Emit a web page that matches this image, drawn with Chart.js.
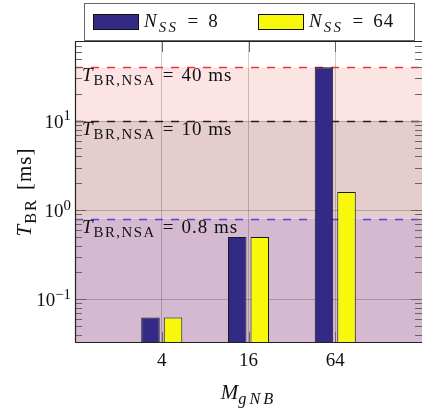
<!DOCTYPE html>
<html>
<head>
<meta charset="utf-8">
<script src="https://cdn.jsdelivr.net/npm/chart.js@4.4.0/dist/chart.umd.min.js"></script>
<style>
  html, body { margin: 0; padding: 0; background: #fff; }
</style>
</head>
<body>
<canvas id="chart" width="422" height="411"></canvas>
<script>
// data
const mGNB = [4, 16, 64];
const nss8 = [0.0625, 0.5, 40];
const nss64 = [0.0625, 0.5, 1.6];
const seriesNames = ['8', '64'];
const seriesColors = ['#332a85', '#f8f80c'];
const nsaLimits = [40, 10, 0.8];
const nsaLabels = ['40', '10', '0.8'];
const nsaColors = ['#ff3030', '#2a1c1c', '#5540e0'];
const bandColors = ['#fde4e4', '#e6cdcd', '#d4b9d0'];
const yDecades = [0.1, 1, 10];
const yExponents = ['\u22121', '0', '1'];

const FONT = 'Liberation Serif';

// text made of runs: r = roman, i = italic, sub / subi / sup = small and shifted, gap = blank px
function drawRich(ctx, x, y, parts, size, align, ls, subLs) {
  ls = ls || 0;
  subLs = subLs || 0;
  const runs = parts.map(([t, k]) => {
    if (k == 'gap') return { gap: true, w: t };
    const small = k == 'sub' || k == 'subi' || k == 'sup';
    const fs = small ? size * 0.78 : size;
    const it = k == 'i' || k == 'subi';
    const f = (it ? 'italic ' : '') + fs + 'px "' + FONT + '"';
    const sp = (k == 'sub' || k == 'subi') ? subLs : (k == 'sup' ? 0 : ls);
    ctx.font = f;
    ctx.letterSpacing = sp + 'px';
    let dy = 0;
    if (k == 'sub' || k == 'subi') dy = size * 0.25;
    if (k == 'sup') dy = -size * 0.4;
    return { t, f, dy, sp, w: ctx.measureText(t).width };
  });
  const total = runs.reduce((s, r) => s + r.w, 0);
  let cx = x;
  if (align == 'right') cx = x - total;
  if (align == 'center') cx = x - total / 2;
  ctx.textAlign = 'left';
  ctx.textBaseline = 'alphabetic';
  runs.forEach(r => {
    if (!r.gap) {
      ctx.font = r.f;
      ctx.letterSpacing = r.sp + 'px';
      ctx.fillText(r.t, cx, y + r.dy);
    }
    cx += r.w;
  });
  ctx.letterSpacing = '0px';
}

const decor = {
  id: 'decor',
  beforeDraw(chart) {
    const { ctx, chartArea: a, scales: { y } } = chart;
    ctx.save();
    nsaLimits.forEach((v, i) => {
      const top = y.getPixelForValue(v);
      const bot = i + 1 < nsaLimits.length ? y.getPixelForValue(nsaLimits[i + 1]) : a.bottom;
      ctx.fillStyle = bandColors[i];
      ctx.fillRect(a.left, top, a.right - a.left, bot - top);
    });
    ctx.restore();
  },
  beforeDatasetsDraw(chart) {
    const { ctx, chartArea: a, scales: { y } } = chart;
    ctx.save();
    nsaLimits.forEach((v, i) => {
      const py = Math.round(y.getPixelForValue(v)) + 0.5;
      ctx.setLineDash([8, 8]);
      ctx.strokeStyle = nsaColors[i];
      ctx.lineWidth = 1.5;
      ctx.beginPath();
      ctx.moveTo(a.left, py);
      ctx.lineTo(a.right, py);
      ctx.stroke();
      ctx.setLineDash([]);
      ctx.fillStyle = '#111';
      drawRich(ctx, a.left + 7, py + 13,
        [['T', 'i'], ['BR,NSA', 'sub'], [7, 'gap'], ['=', 'r'], [7, 'gap'], [nsaLabels[i] + ' ms', 'r']],
        19, 'left', 1, 1.5);
    });
    ctx.restore();
  },
  afterDatasetsDraw(chart) {
    const { ctx, chartArea: a, scales: { x, y } } = chart;
    ctx.save();
    // minor and major ticks, inside, on left and right
    ctx.strokeStyle = '#666';
    ctx.lineWidth = 1;
    for (let k = -2; k <= 1; k++) {
      for (let m = 1; m <= 9; m++) {
        const v = m * Math.pow(10, k);
        if (v < y.min || v > y.max) continue;
        const py = Math.round(y.getPixelForValue(v)) + 0.5;
        const len = m == 1 ? 11 : 7;
        ctx.beginPath();
        ctx.moveTo(a.left, py); ctx.lineTo(a.left + len, py);
        ctx.moveTo(a.right, py); ctx.lineTo(a.right - len, py);
        ctx.stroke();
      }
    }
    mGNB.forEach(v => {
      const px = Math.round(x.getPixelForValue(v)) + 0.5;
      ctx.beginPath();
      ctx.moveTo(px, a.bottom); ctx.lineTo(px, a.bottom - 11);
      ctx.moveTo(px, a.top); ctx.lineTo(px, a.top + 11);
      ctx.stroke();
    });
    // frame
    ctx.strokeStyle = '#222';
    ctx.lineWidth = 1.2;
    ctx.beginPath();
    ctx.moveTo(a.left + 0.5, a.bottom - 0.5);
    ctx.lineTo(a.left + 0.5, a.top + 0.5);
    ctx.lineTo(a.right, a.top + 0.5);
    ctx.moveTo(a.left, a.bottom - 0.5);
    ctx.lineTo(a.right, a.bottom - 0.5);
    ctx.stroke();

    ctx.fillStyle = '#111';
    // y tick labels
    yDecades.forEach((v, i) => {
      const py = y.getPixelForValue(v);
      drawRich(ctx, a.left - 4, py + 7, [['10', 'r'], [yExponents[i], 'sup']], 19, 'right');
    });
    // axis titles
    drawRich(ctx, (a.left + a.right) / 2, 399, [['M', 'i'], ['gNB', 'subi']], 21, 'center', 0, 3);
    ctx.save();
    ctx.translate(23, (a.top + a.bottom) / 2);
    ctx.rotate(-Math.PI / 2);
    drawRich(ctx, 0, 8, [['T', 'i'], ['BR', 'sub'], [8, 'gap'], ['[ms]', 'r']], 21, 'center', 1, 2);
    ctx.restore();

    // legend
    ctx.strokeStyle = '#666';
    ctx.lineWidth = 1;
    ctx.fillStyle = '#fff';
    ctx.fillRect(84.5, 3.5, 330, 37);
    ctx.strokeRect(84.5, 3.5, 330, 37);
    const sx = [93, 258];
    seriesNames.forEach((n, i) => {
      ctx.fillStyle = seriesColors[i];
      ctx.fillRect(sx[i] + 0.5, 14.5, 45, 15);
      ctx.strokeStyle = '#111';
      ctx.strokeRect(sx[i] + 0.5, 14.5, 45, 15);
      ctx.fillStyle = '#111';
      drawRich(ctx, sx[i] + 51, 27,
        [['N', 'i'], [1, 'gap'], ['SS', 'subi'], [9, 'gap'], ['=', 'r'], [9, 'gap'], [n, 'r']],
        19, 'left', 1, 2.5);
    });
    ctx.restore();
  }
};

const gridColor = 'rgba(0,0,0,0.2)';

new Chart(document.getElementById('chart'), {
  type: 'bar',
  data: {
    datasets: [
      {
        label: 'N_SS = ' + seriesNames[0],
        data: mGNB.map((m, i) => ({ x: m, y: nss8[i] })),
        backgroundColor: seriesColors[0],
        borderColor: '#1a1a1a',
        borderWidth: 1,
        categoryPercentage: 0.52,
        barPercentage: 0.82
      },
      {
        label: 'N_SS = ' + seriesNames[1],
        data: mGNB.map((m, i) => ({ x: m, y: nss64[i] })),
        backgroundColor: seriesColors[1],
        borderColor: '#1a1a1a',
        borderWidth: 1,
        categoryPercentage: 0.52,
        barPercentage: 0.82
      }
    ]
  },
  options: {
    responsive: false,
    animation: false,
    layout: { padding: { top: 41, left: 0, right: 0, bottom: 0 } },
    plugins: { legend: { display: false }, tooltip: { enabled: false } },
    scales: {
      x: {
        type: 'logarithmic',
        min: 1,
        max: 256,
        bounds: 'data',
        offset: false,
        grid: { offset: false, color: gridColor, drawTicks: false },
        border: { display: false },
        afterBuildTicks: s => { s.ticks = mGNB.map(v => ({ value: v })); },
        afterFit: s => { s.height = 68; },
        ticks: {
          autoSkip: false,
          maxRotation: 0,
          padding: 7,
          color: '#111',
          font: { family: FONT, size: 19 },
          callback: v => String(v)
        }
      },
      y: {
        type: 'logarithmic',
        min: 0.0323,
        max: 79,
        bounds: 'data',
        grid: { color: gridColor, drawTicks: false },
        border: { display: false },
        afterBuildTicks: s => { s.ticks = yDecades.map(v => ({ value: v })); },
        afterFit: s => { s.width = 75; },
        ticks: { display: false }
      }
    }
  },
  plugins: [decor]
});
</script>
</body>
</html>
